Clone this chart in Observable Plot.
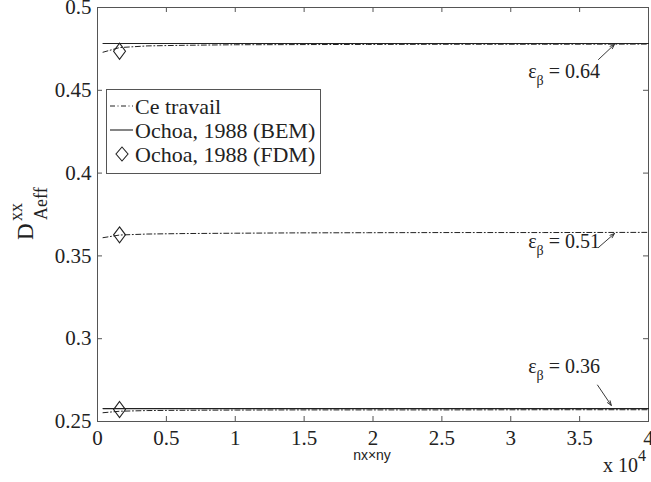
<!DOCTYPE html>
<html><head><meta charset="utf-8">
<script src="https://cdn.jsdelivr.net/npm/d3@7"></script>
<script src="https://cdn.jsdelivr.net/npm/@observablehq/plot@0.6"></script>
<style>body{margin:0;background:#fff} svg{display:block}</style>
</head><body><div id="chart"></div>
<script>
// ---- data ----
const nxny = [400, 1600, 3600, 6400, 10000, 14400, 19600, 25600, 32400, 40000];
const ceTravail064 = [0.4730, 0.4758, 0.4768, 0.4772, 0.4775, 0.4776, 0.4777, 0.4778, 0.4778, 0.4779];
const ceTravail051 = [0.3610, 0.3626, 0.3632, 0.3635, 0.3637, 0.3639, 0.3640, 0.3641, 0.3641, 0.3642];
const ceTravail036 = [0.2553, 0.2562, 0.2566, 0.2568, 0.2569, 0.2570, 0.2570, 0.2570, 0.2571, 0.2571];
const bemX = [400, 40000];
const bem064 = [0.4783, 0.4783];
const bem036 = [0.2578, 0.2578];
const fdmX = [1600, 1600, 1600];
const fdmY = [0.4736, 0.3627, 0.2572];
const xTicks = [0, 5000, 10000, 15000, 20000, 25000, 30000, 35000, 40000];
const yTicks = [0.25, 0.3, 0.35, 0.4, 0.45, 0.5];
const epsLabels = ["0.64", "0.51", "0.36"];
const epsTextX = [31300, 31300, 31300];
const epsTextY = [0.4571, 0.3545, 0.2790];
const arrowFromX = [36370, 36370, 36300];
const arrowFromY = [0.4686, 0.3551, 0.2720];
const arrowToX = [37530, 37530, 37300];
const arrowToY = [0.4777, 0.3635, 0.2597];
const legendLabels = ["Ce travail", "Ochoa, 1988 (BEM)", "Ochoa, 1988 (FDM)"];

// ---- tables ----
const ceData = [
  ...nxny.map((x, i) => ({x, y: ceTravail064[i], s: "0.64"})),
  ...nxny.map((x, i) => ({x, y: ceTravail051[i], s: "0.51"})),
  ...nxny.map((x, i) => ({x, y: ceTravail036[i], s: "0.36"}))
];
const bemData = [
  ...bemX.map((x, i) => ({x, y: bem064[i], s: "0.64"})),
  ...bemX.map((x, i) => ({x, y: bem036[i], s: "0.36"}))
];
const fdmData = fdmX.map((x, i) => ({x, y: fdmY[i]}));
const arrows = epsLabels.map((l, i) => ({x1: arrowFromX[i], y1: arrowFromY[i], x2: arrowToX[i], y2: arrowToY[i]}));

const serif = "'Liberation Serif', 'Times New Roman', serif";
const ink = "#222";
const axisCol = "#555";
const W = 651, H = 482, mT = 7, mR = 3, mB = 61, mL = 97;
const innerW = W - mL - mR, innerH = H - mT - mB;
const tk = 5;

// MATLAB-like diamond (taller than wide)
const tallDiamond = {
  draw(ctx, size) {
    const r = Math.sqrt(size / Math.PI);
    const w = 0.85 * r, h = 1.15 * r;
    ctx.moveTo(0, -h); ctx.lineTo(w, 0); ctx.lineTo(0, h); ctx.lineTo(-w, 0); ctx.closePath();
  }
};

const plot = Plot.plot({
  width: W, height: H,
  marginTop: mT, marginRight: mR, marginBottom: mB, marginLeft: mL,
  style: {fontFamily: serif, background: "#fff", color: ink},
  x: {domain: [0, 40000], axis: null},
  y: {domain: [0.25, 0.5], axis: null},
  marks: [
    Plot.frame({stroke: axisCol, strokeWidth: 1}),
    Plot.tickX(xTicks, {x: d => d, stroke: axisCol, insetTop: innerH - tk}),
    Plot.tickX(xTicks, {x: d => d, stroke: axisCol, insetBottom: innerH - tk}),
    Plot.tickY(yTicks, {y: d => d, stroke: axisCol, insetRight: innerW - tk}),
    Plot.tickY(yTicks, {y: d => d, stroke: axisCol, insetLeft: innerW - tk}),
    Plot.axisX(xTicks, {anchor: "bottom", tickSize: 0, tickPadding: 9, tickFormat: d => String(d / 10000), fontSize: 21, fontFamily: serif, fill: ink, label: null}),
    Plot.axisY(yTicks, {anchor: "left", tickSize: 0, tickPadding: 6, tickFormat: d => String(+d.toFixed(2)), fontSize: 21, fontFamily: serif, fill: ink, label: null}),
    Plot.line(bemData, {x: "x", y: "y", z: "s", stroke: ink, strokeWidth: 1.1}),
    Plot.line(ceData, {x: "x", y: "y", z: "s", stroke: ink, strokeWidth: 1, strokeDasharray: "5,2.5,1,2.5"}),
    Plot.dot(fdmData, {x: "x", y: "y", symbol: tallDiamond, r: 7, stroke: ink, strokeWidth: 1.1, fill: "none"}),
    Plot.arrow(arrows, {x1: "x1", y1: "y1", x2: "x2", y2: "y2", stroke: ink, strokeWidth: 0.9, headLength: 8, headAngle: 40})
  ]
});
document.getElementById("chart").appendChild(plot);

const svg = d3.select(plot);
const sx = plot.scale("x"), sy = plot.scale("y");

// epsilon annotations
epsLabels.forEach((lab, i) => {
  const t = svg.append("text")
    .attr("x", sx.apply(epsTextX[i])).attr("y", sy.apply(epsTextY[i]))
    .attr("text-anchor", "start")
    .attr("font-family", serif).attr("font-size", 20).attr("fill", ink);
  t.append("tspan").text("ε");
  t.append("tspan").attr("dy", 7).attr("font-size", 14).text("β");
  t.append("tspan").attr("dy", -7).text(" = " + lab);
});

// y label D^{xx}_{Aeff}
const gy = svg.append("g").attr("transform", "rotate(-90)")
  .attr("font-family", serif).attr("fill", ink).attr("text-anchor", "start");
gy.append("text").attr("x", -240).attr("y", 33).attr("font-size", 23).text("D");
gy.append("text").attr("x", -221).attr("y", 22).attr("font-size", 18).text("xx");
gy.append("text").attr("x", -220).attr("y", 47).attr("font-size", 18).text("Aeff");

// x label
svg.append("text").attr("x", 372).attr("y", 460).attr("text-anchor", "middle")
  .attr("font-family", "'Liberation Sans', Arial, sans-serif").attr("font-size", 14).attr("fill", ink)
  .text("nx×ny");
// x 10^4 multiplier
const mt = svg.append("text").attr("x", 603).attr("y", 472).attr("text-anchor", "start")
  .attr("font-family", serif).attr("font-size", 20).attr("fill", ink);
mt.append("tspan").text("x 10");
mt.append("tspan").attr("dy", -11).attr("font-size", 16).text("4");

// legend
const lg = svg.append("g").attr("font-family", serif).attr("text-anchor", "start");
lg.append("rect").attr("x", 106.5).attr("y", 89.5).attr("width", 214).attr("height", 84)
  .attr("fill", "#fff").attr("stroke", axisCol).attr("stroke-width", 1);
const rowY = [106, 130, 154];
lg.append("line").attr("x1", 110).attr("x2", 133).attr("y1", rowY[0]).attr("y2", rowY[0])
  .attr("stroke", ink).attr("stroke-dasharray", "5,2.5,1,2.5");
lg.append("line").attr("x1", 110).attr("x2", 133).attr("y1", rowY[1]).attr("y2", rowY[1])
  .attr("stroke", ink).attr("stroke-width", 1.1);
lg.append("path").attr("d", `M122,${rowY[2]-7}L128,${rowY[2]}L122,${rowY[2]+7}L116,${rowY[2]}Z`)
  .attr("fill", "none").attr("stroke", ink).attr("stroke-width", 1.1);
legendLabels.forEach((l, i) => {
  lg.append("text").attr("x", 135).attr("y", rowY[i]).attr("dy", "0.35em")
    .attr("font-size", 22).attr("fill", ink).text(l);
});
</script>
</body></html>
